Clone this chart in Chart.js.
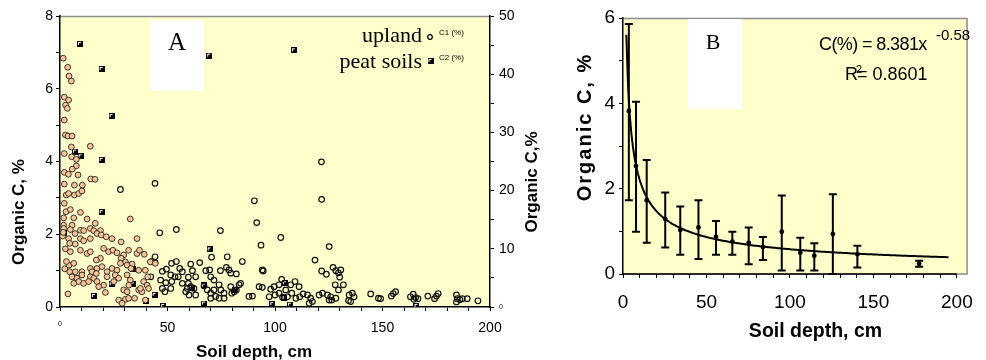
<!DOCTYPE html>
<html>
<head>
<meta charset="utf-8">
<script src="https://cdn.jsdelivr.net/npm/chart.js@4.4.1/dist/chart.umd.min.js"></script>
<style>
  html, body { margin: 0; padding: 0; background: #ffffff; }
  #wrap { position: relative; width: 986px; height: 360px; overflow: hidden; }
  #boxA { position: absolute; left: 0; top: 0; width: 545px; height: 360px; }
  #boxB { position: absolute; left: 560px; top: 0; width: 426px; height: 360px; }
</style>
</head>
<body>
<div id="wrap">
  <div id="boxA"><canvas id="chartA" width="545" height="360"></canvas></div>
  <div id="boxB"><canvas id="chartB" width="426" height="360"></canvas></div>
</div>
<script>
// ---------- Panel A: organic C against soil depth ----------
// [depth cm, C %] upland profiles, shallow group (filled markers)
const uplandFilled = [
  [1.5,6.84],[3.6,6.59],[4.2,6.35],[5.3,6.21],[2.0,5.77],[4.0,5.69],[2.6,5.55],[3.4,5.46],[2.0,5.14],
  [2.5,4.73],[3.7,4.70],[5.6,4.70],[5.3,4.40],[14.1,4.42],[2.0,4.22],[5.4,4.13],[7.6,4.06],[7.6,3.88],
  [5.7,3.79],[2.0,3.70],[3.9,3.65],[8.4,3.63],[14.3,3.52],[16.3,3.51],[2.0,3.38],[6.7,3.35],[10.4,3.35],
  [2.9,3.08],[4.0,3.12],[6.7,3.08],[8.7,3.12],[10.2,3.19],[2.0,2.85],[2.8,2.62],[4.8,2.68],[6.4,2.45],
  [9.5,2.60],[12.6,2.42],[1.7,2.45],[1.7,2.25],[1.7,2.16],[5.6,2.25],[4.8,2.13],[9.5,2.11],[11.0,2.10],
  [14.1,2.16],[15.7,2.10],[18.8,2.10],[16.4,2.30],[32.7,2.42],[7.0,2.02],[4.0,1.88],[4.5,1.75],[7.1,1.73],
  [9.5,1.88],[11.0,1.82],[14.1,1.88],[17.2,2.02],[19.2,1.98],[21.5,1.93],[24.2,1.88],[28.4,1.79],[35.8,1.88],
  [4.8,1.52],[9.5,1.56],[12.6,1.47],[14.1,1.52],[20.3,1.61],[22.6,1.52],[24.6,1.56],[26.5,1.49],[29.6,1.43],
  [31.9,1.56],[35.8,1.47],[37.0,1.56],[39.2,1.45],[18.8,1.34],[16.9,1.29],[28.4,1.34],[30.4,1.24],[33.5,1.18],
  [4.2,1.15],[6.4,1.20],[4.5,0.97],[7.1,0.97],[10.2,0.97],[14.1,1.06],[14.9,0.97],[17.2,1.06],[19.5,1.11],
  [21.9,0.97],[24.2,1.06],[26.5,1.01],[28.1,1.20],[31.2,1.15],[33.0,1.06],[36.6,1.01],[39.7,1.01],[42.0,1.24],
  [44.3,1.20],[5.6,0.83],[7.9,0.79],[10.2,0.88],[8.7,0.70],[6.4,0.65],[14.1,0.83],[15.7,0.79],[16.9,0.92],
  [21.9,0.83],[25.7,0.88],[27.3,0.79],[25.0,0.70],[31.2,0.88],[32.7,0.74],[32.0,0.60],[38.9,0.70],[40.8,0.83],
  [40.5,0.60],[11.0,0.65],[13.3,0.70],[17.2,0.70],[20.3,0.60],[18.0,0.56],[29.6,0.47],[31.2,0.42],[36.6,0.47],
  [38.1,0.42],[21.1,0.40],[3.7,0.36],[27.3,0.19],[30.4,0.21],[31.9,0.24],[34.7,0.24],[39.7,0.19],[28.9,0.10],
  [37.4,0.51],[41.2,0.51],[1.2,1.95],[1.5,2.05],[2.5,1.60],[3.0,1.25],[2.2,1.05]
];
// [depth cm, C %] upland profiles, deeper group (open markers)
const uplandOpen = [
  [121.6,3.99],[44.2,3.40],[28.1,3.23],[90.4,2.92],[121.7,2.96],[91.5,2.32],[46.4,2.04],[54.1,2.13],[74.6,2.10],
  [93.5,1.70],[70.5,1.37],[44.2,1.38],[44.2,1.22],[42.6,1.25],[42.2,0.83],[47.6,0.98],[49.5,1.04],[51.9,1.20],
  [54.1,1.25],[51.5,0.88],[53.5,0.83],[55.0,0.83],[56.9,0.97],[55.7,1.06],[60.8,1.18],[65.0,1.22],[61.6,1.00],
  [59.7,0.82],[63.1,0.83],[67.8,1.00],[69.6,1.02],[71.6,0.74],[70.1,0.83],[74.6,1.00],[77.8,1.38],[77.4,1.09],
  [78.6,1.02],[79.4,0.93],[82.0,0.91],[84.8,1.25],[46.8,0.74],[49.2,0.67],[47.6,0.51],[48.8,0.42],[51.5,0.51],
  [52.0,0.70],[56.9,0.65],[59.7,0.65],[60.8,0.56],[58.5,0.42],[60.0,0.33],[62.3,0.51],[63.1,0.33],[67.0,0.58],
  [68.5,0.47],[70.1,0.38],[71.6,0.47],[72.4,0.29],[74.0,0.61],[74.8,0.47],[76.3,0.38],[70.1,0.24],[74.0,0.24],
  [76.3,0.24],[79.4,0.56],[81.0,0.42],[82.0,0.47],[83.3,0.61],[84.0,0.65],[79.9,0.38],[87.9,0.29],[89.5,0.30],
  [92.6,0.56],[94.1,0.54],[94.1,1.02],[59.2,0.51],[102.7,1.91],[125.2,1.66],[118.6,1.29],[94.5,0.99],[121.7,0.99],
  [123.9,0.90],[127.0,1.09],[128.3,1.00],[129.5,0.94],[130.6,1.02],[130.1,0.82],[128.0,0.61],[129.5,0.47],[131.8,0.61],
  [98.0,0.49],[99.6,0.56],[101.9,0.61],[103.1,0.76],[105.0,0.47],[107.3,0.61],[109.3,0.70],[111.2,0.56],[97.3,0.28],
  [100.0,0.33],[101.9,0.38],[103.5,0.27],[105.8,0.28],[107.8,0.38],[109.7,0.24],[111.5,0.28],[113.1,0.36],[115.1,0.33],
  [116.6,0.24],[115.9,0.10],[117.4,0.15],[120.5,0.33],[122.1,0.38],[124.4,0.33],[125.9,0.28],[126.4,0.19],[125.2,0.19],
  [128.3,0.24],[134.5,0.33],[136.0,0.38],[136.8,0.28],[134.2,0.18],[135.2,0.15],[144.5,0.36],[148.1,0.24],[149.1,0.23],
  [154.1,0.30],[155.0,0.37],[156.1,0.42],[163.0,0.28],[164.3,0.35],[165.4,0.26],[166.5,0.23],[164.6,0.21],[171.1,0.30],
  [174.2,0.23],[175.1,0.30],[175.9,0.37],[184.4,0.33],[184.8,0.23],[184.4,0.14],[186.0,0.20],[187.1,0.23],[189.4,0.23],
  [194.4,0.17]
];
// [depth cm, C %] peat soils, plotted on the right-hand axis
const peatSoils = [
  [9.3,45.2],[19.4,40.9],[24.0,32.8],[69.4,43.2],[108.8,44.1],[7.0,26.7],[9.6,25.9],[19.4,25.3],[19.4,16.3],
  [2.0,12.8],[69.6,9.9],[34.0,6.6],[24.0,3.9],[34.0,3.9],[15.8,1.9],[44.0,2.1],[40.0,1.1],[48.0,0.2],[67.0,0.6],
  [67.0,3.7],[61.5,3.3],[81.4,3.0],[98.7,0.5],[104.6,4.1],[104.4,1.5],[107.0,0.4],[165.8,0.2]
];

// ---------- Panel B: depth-class means with ranges ----------
const classDepth = [3.5, 7.8, 14.2, 25.3, 34.3, 45.2, 55.7, 65.5, 75.3, 83.8, 95.1, 106.2, 114.6, 125.7, 140.4, 177.4];
const classMean  = [3.82, 2.53, 1.73, 1.29, 1.03, 1.09, 0.87, 0.76, 0.73, 0.63, 0.99, 0.50, 0.43, 0.94, 0.46, 0.24];
const classLow   = [1.73, 0.99, 0.73, 0.62, 0.45, 0.35, 0.45, 0.45, 0.23, 0.33, 0.08, 0.08, 0.08, 0.00, 0.15, 0.17];
const classHigh  = [5.86, 4.04, 2.67, 1.91, 1.58, 1.73, 1.24, 0.99, 1.09, 0.87, 1.84, 0.85, 0.72, 1.87, 0.66, 0.31];
// power-law fit C(%) = a * x^b, as printed on the panel
const FIT_COEF = 8.381;
const FIT_EXP = -0.58;
const FIT_R2 = 0.8601;
const FIT_FROM = 2, FIT_TO = 195;

// ---------- styling ----------
const SANS = '"Liberation Sans", Arial, sans-serif';
const SERIF = '"Liberation Serif", "Times New Roman", serif';
const PLOT_BG = '#FFFFCC';
const FRAME_GREY = '#8c8c8c';

const toXY = arr => arr.map(p => ({ x: p[0], y: p[1] }));

function peatMarker() {
  const c = document.createElement('canvas');
  c.width = 6; c.height = 6;
  const g = c.getContext('2d');
  g.fillStyle = '#000';
  g.fillRect(0, 0, 6, 6);
  g.fillStyle = '#fff';
  g.fillRect(1, 1, 3, 1);
  g.fillRect(1, 2, 1, 2);
  return c;
}
const PEAT_IMG = peatMarker();

function rotatedText(ctx, txt, cx, cy, font, spacing) {
  ctx.save();
  ctx.translate(cx, cy);
  ctx.rotate(-Math.PI / 2);
  ctx.font = font;
  if (spacing) ctx.letterSpacing = spacing;
  ctx.fillStyle = '#000';
  ctx.textAlign = 'center';
  ctx.textBaseline = 'middle';
  ctx.fillText(txt, 0, 0);
  ctx.restore();
}

// ================= Chart A =================
const panelA = {
  id: 'panelA',
  beforeDraw(chart) {
    const { ctx, chartArea: a } = chart;
    ctx.save();
    ctx.fillStyle = PLOT_BG;
    ctx.fillRect(a.left, a.top, a.right - a.left, a.bottom - a.top);
    ctx.strokeStyle = FRAME_GREY;
    ctx.lineWidth = 1.5;
    ctx.beginPath();
    ctx.moveTo(a.left, a.top + 0.5);
    ctx.lineTo(a.right, a.top + 0.5);
    ctx.stroke();
    // white label box
    ctx.fillStyle = '#fff';
    ctx.fillRect(a.left + 90, a.top + 4, 54, 71);
    ctx.fillStyle = '#000';
    ctx.font = '25px ' + SERIF;
    ctx.textAlign = 'center';
    ctx.textBaseline = 'alphabetic';
    ctx.fillText('A', a.left + 117, a.top + 34);
    ctx.restore();
  },
  afterDraw(chart) {
    const { ctx, chartArea: a } = chart;
    ctx.save();
    // axis titles
    rotatedText(ctx, 'Organic C, %', 19, 212, 'bold 17px ' + SANS);
    rotatedText(ctx, 'Organic C,%', 532, 182, 'bold 17px ' + SANS);
    ctx.fillStyle = '#000';
    ctx.font = 'bold 17px ' + SANS;
    ctx.textAlign = 'center';
    ctx.textBaseline = 'alphabetic';
    ctx.fillText('Soil depth, cm', 254, 357);
    // legend
    const lx = a.right - 68;
    ctx.font = '22px ' + SERIF;
    ctx.textAlign = 'right';
    ctx.fillText('upland', lx, a.top + 26);
    ctx.fillText('peat soils', lx, a.top + 52);
    ctx.beginPath();
    ctx.arc(lx + 8, a.top + 21, 2.3, 0, Math.PI * 2);
    ctx.lineWidth = 1.2;
    ctx.strokeStyle = '#000';
    ctx.stroke();
    ctx.drawImage(PEAT_IMG, lx + 5.5, a.top + 42);
    ctx.font = '8px ' + SANS;
    ctx.textAlign = 'left';
    ctx.textBaseline = 'middle';
    ctx.fillText('C1 (%)', lx + 17, a.top + 17);
    ctx.fillText('C2 (%)', lx + 17, a.top + 42);
    ctx.restore();
  }
};

const zeroSmall = (big, small) => (c) => ({ family: SANS, size: (c.tick && c.tick.value === 0) ? small : big });

new Chart(document.getElementById('chartA'), {
  type: 'scatter',
  data: {
    datasets: [
      {
        label: 'upland',
        data: toXY(uplandFilled),
        yAxisID: 'y',
        pointRadius: 2.9,
        pointBorderWidth: 0.9,
        pointBackgroundColor: '#F9C496',
        pointBorderColor: '#222'
      },
      {
        label: 'upland (open)',
        data: toXY(uplandOpen),
        yAxisID: 'y',
        pointRadius: 2.8,
        pointBorderWidth: 1.2,
        pointBackgroundColor: 'rgba(0,0,0,0)',
        pointBorderColor: '#111'
      },
      {
        label: 'peat soils',
        data: toXY(peatSoils),
        yAxisID: 'y2',
        pointStyle: PEAT_IMG
      }
    ]
  },
  options: {
    responsive: false,
    animation: false,
    events: [],
    layout: { padding: { top: 16, left: 0, right: 0, bottom: 0 } },
    plugins: { legend: { display: false }, tooltip: { enabled: false } },
    scales: {
      x: {
        type: 'linear', min: 0, max: 200,
        ticks: {
          stepSize: 10, autoSkip: false, maxRotation: 0, color: '#000', padding: 9,
          font: zeroSmall(14, 7),
          callback: v => (v % 50 === 0 ? String(v) : '')
        },
        grid: { drawOnChartArea: false, drawTicks: true, tickLength: 4, color: '#000', lineWidth: 1 },
        border: { color: '#000', width: 1.5 },
        afterFit: s => { s.height = 53; }
      },
      y: {
        type: 'linear', position: 'left', min: 0, max: 8,
        ticks: {
          stepSize: 1, autoSkip: false, color: '#000', padding: 3,
          font: { family: SANS, size: 14 },
          callback: v => (v % 2 === 0 ? String(v) : '')
        },
        grid: { drawOnChartArea: false, drawTicks: true, tickLength: 4, color: '#000', lineWidth: 1 },
        border: { color: '#000', width: 1.5 },
        afterFit: s => { s.width = 60; }
      },
      y2: {
        type: 'linear', position: 'right', min: 0, max: 50,
        ticks: {
          stepSize: 5, autoSkip: false, color: '#000', padding: 5,
          font: zeroSmall(14, 7),
          callback: v => (v % 10 === 0 ? String(v) : '')
        },
        grid: { drawOnChartArea: false, drawTicks: true, tickLength: 4, color: '#000', lineWidth: 1 },
        border: { color: '#000', width: 1.5 },
        afterFit: s => { s.width = 55; }
      }
    }
  },
  plugins: [panelA]
});

// ================= Chart B =================
const fitCurve = [];
for (let d = FIT_FROM; d <= FIT_TO; d += 1) {
  fitCurve.push({ x: d, y: FIT_COEF * Math.pow(d, FIT_EXP) });
}

const panelB = {
  id: 'panelB',
  beforeDraw(chart) {
    const { ctx, chartArea: a } = chart;
    ctx.save();
    ctx.fillStyle = PLOT_BG;
    ctx.fillRect(a.left, a.top, a.right - a.left, a.bottom - a.top);
    ctx.strokeStyle = FRAME_GREY;
    ctx.lineWidth = 1.5;
    ctx.beginPath();
    ctx.moveTo(a.left, a.top + 0.5);
    ctx.lineTo(a.right - 0.5, a.top + 0.5);
    ctx.lineTo(a.right - 0.5, a.bottom);
    ctx.lineTo(a.left, a.bottom);
    ctx.stroke();
    // white label box
    ctx.fillStyle = '#fff';
    ctx.fillRect(a.left + 65, a.top + 1, 54, 90);
    ctx.fillStyle = '#000';
    ctx.font = '22px ' + SERIF;
    ctx.textAlign = 'center';
    ctx.textBaseline = 'alphabetic';
    ctx.fillText('B', a.left + 90, a.top + 31);
    ctx.restore();
  },
  afterDatasetsDraw(chart) {
    const { ctx } = chart;
    const xs = chart.scales.x, ys = chart.scales.y;
    ctx.save();
    ctx.strokeStyle = '#000';
    ctx.lineWidth = 2;
    for (let i = 0; i < classDepth.length; i++) {
      const px = xs.getPixelForValue(classDepth[i]);
      const y1 = ys.getPixelForValue(classLow[i]);
      const y2 = ys.getPixelForValue(classHigh[i]);
      ctx.beginPath();
      ctx.moveTo(px, y1); ctx.lineTo(px, y2);
      ctx.moveTo(px - 4, y1); ctx.lineTo(px + 4, y1);
      ctx.moveTo(px - 4, y2); ctx.lineTo(px + 4, y2);
      ctx.stroke();
    }
    ctx.restore();
  },
  afterDraw(chart) {
    const { ctx, chartArea: a } = chart;
    const xs = chart.scales.x;
    ctx.save();
    // x axis line over the labelled range
    ctx.strokeStyle = '#000';
    ctx.lineWidth = 1.5;
    ctx.beginPath();
    ctx.moveTo(a.left, a.bottom);
    ctx.lineTo(xs.getPixelForValue(200), a.bottom);
    ctx.stroke();
    // axis titles
    rotatedText(ctx, 'Organic C, %', 25, 127, 'bold 20px ' + SANS, '2px');
    ctx.fillStyle = '#000';
    ctx.font = 'bold 19.5px ' + SANS;
    ctx.textAlign = 'center';
    ctx.textBaseline = 'alphabetic';
    ctx.fillText('Soil depth, cm', 255.5, 337);
    // fitted equation
    ctx.textAlign = 'left';
    ctx.font = '18px ' + SANS;
    ctx.letterSpacing = '-0.6px';
    ctx.fillText('C(%) = ' + FIT_COEF + 'x', 259, 50);
    ctx.letterSpacing = '0px';
    ctx.fillText('R', 285, 80);
    ctx.fillText('= ' + FIT_R2, 297, 80);
    ctx.font = '15px ' + SANS;
    ctx.fillText(String(FIT_EXP), 376, 40);
    ctx.font = '11px ' + SANS;
    ctx.fillText('2', 296, 73);
    ctx.restore();
  }
};

new Chart(document.getElementById('chartB'), {
  type: 'scatter',
  data: {
    datasets: [
      {
        type: 'line',
        label: 'fit',
        data: fitCurve,
        borderColor: '#000',
        borderWidth: 2,
        pointRadius: 0,
        tension: 0,
        fill: false
      },
      {
        label: 'mean',
        data: classDepth.map((d, i) => ({ x: d, y: classMean[i] })),
        pointRadius: 2.4,
        pointBorderWidth: 0,
        pointBackgroundColor: '#000'
      }
    ]
  },
  options: {
    responsive: false,
    animation: false,
    events: [],
    layout: { padding: { top: 18, left: 0, right: 9, bottom: 0 } },
    plugins: { legend: { display: false }, tooltip: { enabled: false } },
    scales: {
      x: {
        type: 'linear', min: 0, max: 206.4,
        ticks: {
          stepSize: 10, includeBounds: false, autoSkip: false, maxRotation: 0, color: '#000', padding: 13,
          font: { family: SANS, size: 19 },
          callback: v => (v % 50 === 0 ? String(v) : '')
        },
        grid: { drawOnChartArea: false, drawTicks: true, tickLength: 4, color: '#000', lineWidth: 1 },
        border: { display: false },
        afterFit: s => { s.height = 86; }
      },
      y: {
        type: 'linear', min: 0, max: 6,
        ticks: {
          stepSize: 1, autoSkip: false, color: '#000', padding: 4,
          font: { family: SANS, size: 19 },
          callback: v => (v % 2 === 0 ? String(v) : '')
        },
        grid: { drawOnChartArea: false, drawTicks: true, tickLength: 4, color: '#000', lineWidth: 1 },
        border: { color: '#000', width: 1.5 },
        afterFit: s => { s.width = 63; }
      }
    }
  },
  plugins: [panelB]
});
</script>
</body>
</html>
